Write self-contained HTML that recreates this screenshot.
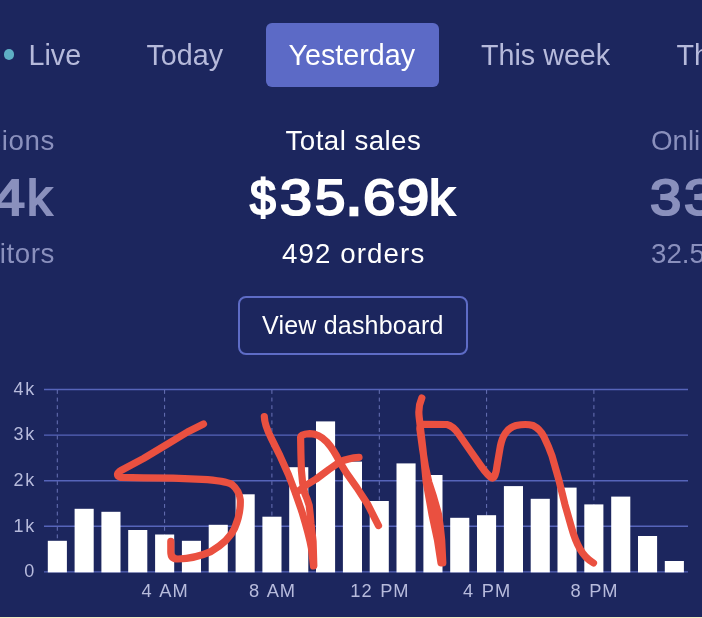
<!DOCTYPE html>
<html><head><meta charset="utf-8"><title>Yesterday</title>
<style>
html,body{margin:0;padding:0}
body{width:702px;height:618px;overflow:hidden;background:#1c265e;position:relative;font-family:"Liberation Sans",Arial,sans-serif;color:#fff}
.t{position:absolute;white-space:nowrap;line-height:1}
.tab{font-size:28.7px;color:#b6badb;top:40.5px}
.dim{color:#8a90bd}
.big{position:absolute;left:0;top:172.5px;font-size:50.5px;line-height:1;white-space:nowrap;-webkit-text-stroke:2.1px currentColor}
.big span{position:absolute;top:0;transform-origin:0 43px}
.lab{font-size:27.7px}
.ax{font-family:"Liberation Sans",Arial,sans-serif;font-size:18px;fill:#b7bbdc}
#sel{position:absolute;left:266px;top:23px;width:173px;height:64px;background:#5c6ac6;border-radius:6px}
#btn{position:absolute;left:238px;top:296px;width:226px;height:55px;border:2px solid #5e6cc6;border-radius:8px}
#dot{position:absolute;left:4.1px;top:49.4px;width:10.2px;height:10.2px;border-radius:50%;background:#5eafc4}
#cream{position:absolute;left:0;top:616.5px;width:702px;height:2px;background:#efeabf}
svg{position:absolute;left:0;top:0}
</style></head><body>
<div id="dot"></div>
<div class="t tab" style="left:28.5px">Live</div>
<div class="t tab" style="left:146.5px">Today</div>
<div id="sel"></div>
<div class="t tab" style="left:288.5px;color:#fff">Yesterday</div>
<div class="t tab" style="left:481px">This week</div>
<div class="t tab" style="left:676.5px">Th</div>

<div class="t lab dim" style="right:647px;top:126.5px;letter-spacing:0.6px">Sessions</div>
<div class="big dim"><span style="left:-7.2px;transform:scale(1.14,1)">4</span><span style="left:26.9px;transform:scale(0.99,1)">k</span></div>
<div class="t lab dim" style="right:647px;top:240px;letter-spacing:0.6px">2,871 visitors</div>

<div class="t lab" style="left:285.5px;top:126.5px;letter-spacing:0.45px">Total sales</div>
<div class="big"><span style="left:249.5px;transform:scale(0.92,1)">$</span><span style="left:279.9px;transform:scale(1.135,1)">3</span><span style="left:314.9px;transform:scale(1.08,1)">5</span><span style="left:345.3px;transform:scale(1.27,1.27)">.</span><span style="left:362.5px;transform:scale(1.16,1)">6</span><span style="left:397.25px;transform:scale(1.146,1)">9</span><span style="left:428.5px;transform:scale(1.02,1)">k</span></div>
<div class="t lab" style="left:282px;top:240px;letter-spacing:1.1px">492 orders</div>

<div class="t lab dim" style="left:651px;top:126.5px">Online store</div>
<div class="big dim"><span style="left:650.3px;transform:scale(1.115,1)">3</span><span style="left:684px;transform:scale(1.115,1)">3</span></div>
<div class="t lab dim" style="left:651px;top:240px">32.5</div>

<div id="btn"></div>
<div class="t" style="left:262px;top:313px;font-size:25px;letter-spacing:0.2px">View dashboard</div>

<svg width="702" height="618" viewBox="0 0 702 618">
<line x1="44" y1="389.5" x2="688" y2="389.5" stroke="#5664ba" stroke-width="1.4"/>
<line x1="44" y1="435.1" x2="688" y2="435.1" stroke="#5664ba" stroke-width="1.4"/>
<line x1="44" y1="480.7" x2="688" y2="480.7" stroke="#5664ba" stroke-width="1.4"/>
<line x1="44" y1="526.3" x2="688" y2="526.3" stroke="#5664ba" stroke-width="1.4"/>
<line x1="44" y1="571.9" x2="688" y2="571.9" stroke="#5664ba" stroke-width="1.4"/>
<line x1="57.3" y1="390" x2="57.3" y2="571" stroke="#6872b6" stroke-width="1" stroke-dasharray="3.9 3.7"/>
<line x1="164.6" y1="390" x2="164.6" y2="571" stroke="#6872b6" stroke-width="1" stroke-dasharray="3.9 3.7"/>
<line x1="271.9" y1="390" x2="271.9" y2="571" stroke="#6872b6" stroke-width="1" stroke-dasharray="3.9 3.7"/>
<line x1="379.3" y1="390" x2="379.3" y2="571" stroke="#6872b6" stroke-width="1" stroke-dasharray="3.9 3.7"/>
<line x1="486.6" y1="390" x2="486.6" y2="571" stroke="#6872b6" stroke-width="1" stroke-dasharray="3.9 3.7"/>
<line x1="593.9" y1="390" x2="593.9" y2="571" stroke="#6872b6" stroke-width="1" stroke-dasharray="3.9 3.7"/>
<rect x="47.8" y="540.8" width="19.1" height="31.6" fill="#fff"/>
<rect x="74.6" y="508.8" width="19.1" height="63.6" fill="#fff"/>
<rect x="101.4" y="511.8" width="19.1" height="60.6" fill="#fff"/>
<rect x="128.2" y="530.0" width="19.1" height="42.4" fill="#fff"/>
<rect x="155.1" y="534.5" width="19.1" height="37.9" fill="#fff"/>
<rect x="181.9" y="540.8" width="19.1" height="31.6" fill="#fff"/>
<rect x="208.7" y="524.8" width="19.1" height="47.6" fill="#fff"/>
<rect x="235.6" y="494.3" width="19.1" height="78.1" fill="#fff"/>
<rect x="262.4" y="516.7" width="19.1" height="55.7" fill="#fff"/>
<rect x="289.2" y="467.2" width="19.1" height="105.2" fill="#fff"/>
<rect x="316.0" y="421.4" width="19.1" height="151.0" fill="#fff"/>
<rect x="342.9" y="461.6" width="19.1" height="110.8" fill="#fff"/>
<rect x="369.7" y="501.0" width="19.1" height="71.4" fill="#fff"/>
<rect x="396.5" y="463.4" width="19.1" height="109.0" fill="#fff"/>
<rect x="423.4" y="475.0" width="19.1" height="97.4" fill="#fff"/>
<rect x="450.2" y="517.8" width="19.1" height="54.6" fill="#fff"/>
<rect x="477.0" y="515.2" width="19.1" height="57.2" fill="#fff"/>
<rect x="503.9" y="486.1" width="19.1" height="86.3" fill="#fff"/>
<rect x="530.7" y="498.8" width="19.1" height="73.6" fill="#fff"/>
<rect x="557.5" y="487.6" width="19.1" height="84.8" fill="#fff"/>
<rect x="584.3" y="504.4" width="19.1" height="68.0" fill="#fff"/>
<rect x="611.2" y="496.6" width="19.1" height="75.8" fill="#fff"/>
<rect x="638.0" y="536.0" width="19.1" height="36.4" fill="#fff"/>
<rect x="664.8" y="561.0" width="19.1" height="11.4" fill="#fff"/>
<text x="36" y="394.8" text-anchor="end" class="ax" style="letter-spacing:1.8px">4k</text>
<text x="36" y="440.4" text-anchor="end" class="ax" style="letter-spacing:1.8px">3k</text>
<text x="36" y="486.0" text-anchor="end" class="ax" style="letter-spacing:1.8px">2k</text>
<text x="36" y="531.6" text-anchor="end" class="ax" style="letter-spacing:1.8px">1k</text>
<text x="36" y="577.2" text-anchor="end" class="ax" style="letter-spacing:1.8px">0</text>
<text x="165.2" y="597.3" text-anchor="middle" class="ax" style="font-size:18.3px;letter-spacing:1px;word-spacing:1.5px">4 AM</text>
<text x="272.5" y="597.3" text-anchor="middle" class="ax" style="font-size:18.3px;letter-spacing:1px;word-spacing:1.5px">8 AM</text>
<text x="379.9" y="597.3" text-anchor="middle" class="ax" style="font-size:18.3px;letter-spacing:1px;word-spacing:1.5px">12 PM</text>
<text x="487.2" y="597.3" text-anchor="middle" class="ax" style="font-size:18.3px;letter-spacing:1px;word-spacing:1.5px">4 PM</text>
<text x="594.5" y="597.3" text-anchor="middle" class="ax" style="font-size:18.3px;letter-spacing:1px;word-spacing:1.5px">8 PM</text>
<path d="M203.5,424 L187.5,432 L167,444.3 L143.7,458.3 L121.9,470 Q114,474.5 120.4,477.3 L143.7,477.8 L172.9,478.1 L202,479.3 Q225,480.5 232,484.5 Q239.3,490.5 240.3,500 Q240.8,514 234.6,528.3 Q229,541 210.8,551.6 Q195,558.5 178,559 Q170.8,559 170.8,552 L170.8,541.4" fill="none" stroke="#ea5040" stroke-width="7.2" stroke-linecap="round" stroke-linejoin="round"/>
<path d="M264.3,416.5 Q264.5,425 271.4,438.5 L279.9,455.6 L288.5,474.8 Q296,494 302,512 Q309,535 311.4,548 L313.5,566" fill="none" stroke="#ea5040" stroke-width="7.2" stroke-linecap="round" stroke-linejoin="round"/>
<path d="M313.8,565.5 L313.1,541.3 L311,523.4 Q310,512 309.2,505.6 Q307,498 304.7,493.2 Q302,482 301.4,470.5 L300.9,453.4 L300.6,437 Q300.8,434.2 309.8,433.6 Q319,433.6 326.9,442 Q334,450 339.7,462 L346.2,472.6 L356.8,487.6 L367.5,504 L378.5,525.6" fill="none" stroke="#ea5040" stroke-width="7.2" stroke-linecap="round" stroke-linejoin="round"/>
<path d="M359,457.3 Q348,458 339.7,462 L329.1,469.4 L316.2,479 L305.6,485.5 L295.9,493" fill="none" stroke="#ea5040" stroke-width="7.2" stroke-linecap="round" stroke-linejoin="round"/>
<path d="M421.8,398 Q417.8,407 419.2,417.4 L423,449.7 L426.2,482.1 L432,514.4 L437.5,540.3 L441,563 L442.8,563 L441.7,540.3 Q440.5,527 438.5,514.4 Q434,497 428.8,482.1 Q425,467 422.7,449.7 L420,430 Q419,424.5 424,424.3 L446.9,424.5 Q453,426 458.3,433.5 L469.6,449.7 L480.9,465.9 Q488,476 492,478 Q495.5,478.5 497,465.9 L500.3,446.5 Q502,438 505.2,433.5 Q509,427.5 516,425.5 Q526,423.5 533,425.5 Q540,429 544,436.8 Q549,447 552.1,456.2 L558.6,478.9 L565,504.7 L571.5,527.4 Q575,540 580,549 Q585,558 593.5,563" fill="none" stroke="#ea5040" stroke-width="7.2" stroke-linecap="round" stroke-linejoin="round"/>
</svg>
<div id="cream"></div>
</body></html>
